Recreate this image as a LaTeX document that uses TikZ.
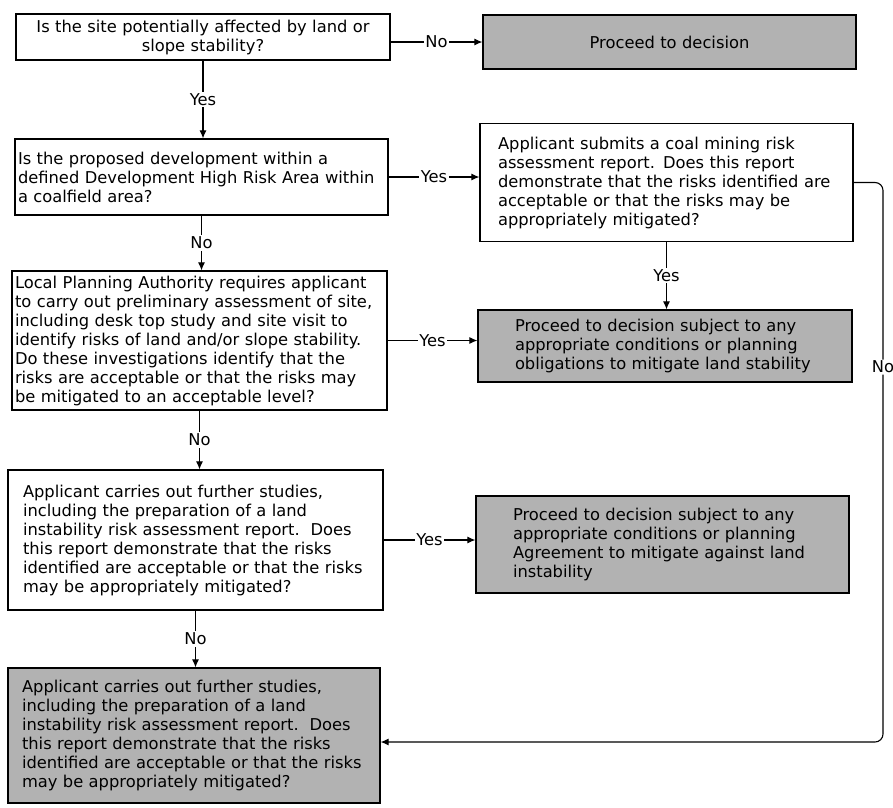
\documentclass[tikz,border=0pt]{standalone}
\usepackage{fontspec}
\setmainfont{DejaVu Sans}
\usetikzlibrary{positioning, arrows.meta, calc}

\tikzset{
  qbox/.style={draw, rectangle, fill=white, align=left, line width=1.2pt},
  gbox/.style={draw, rectangle, fill=black!30, align=left, line width=1.2pt},
  arr/.style={-{Latex[length=8pt,width=7pt]}, line width=1.1pt},
  lbl/.style={fill=white, inner sep=1.5pt},
}

\begin{document}
\begin{tikzpicture}[x=1pt, y=-1pt, font=\fontsize{16.3}{19}\selectfont]
  \useasboundingbox (0,0) rectangle (893,807);

  \node[qbox, align=center, text width=366pt, inner xsep=4pt, minimum height=46pt] (site) at (203,37) {Is the site potentially affected by land or\\ slope stability?};
  \node[gbox, align=center, text width=365pt, inner xsep=4pt, minimum height=54pt] (decide) at (669.5,42) {Proceed to decision};

  \node[qbox, text width=367pt, inner xsep=3pt, minimum height=76pt] (highrisk) at (201.5,177) {Is the proposed development within a\\ defined Development High Risk Area within\\ a coalfield area?};
  \node[qbox, text width=337pt, inner xsep=18pt, minimum height=118pt] (coalreport) at (666.5,182.5) {Applicant submits a coal mining risk\\ assessment report. Does this report\\ demonstrate that the risks identified are\\ acceptable or that the risks may be\\ appropriately mitigated?};

  \node[qbox, text width=369pt, inner xsep=3pt, minimum height=139pt] (prelim) at (199.5,340.5) {Local Planning Authority requires applicant\\ to carry out preliminary assessment of site,\\ including desk top study and site visit to\\ identify risks of land and/or slope stability.\\ Do these investigations identify that the\\ risks are acceptable or that the risks may\\ be mitigated to an acceptable level?};
  \node[gbox, text width=300pt, inner xsep=37pt, minimum height=72pt] (condone) at (665,346) {Proceed to decision subject to any\\ appropriate conditions or planning\\ obligations to mitigate land stability};

  \node[qbox, text width=345pt, inner xsep=15pt, minimum height=140pt] (further) at (195.5,540) {Applicant carries out further studies,\\ including the preparation of a land\\ instability risk assessment report.\ \ Does\\ this report demonstrate that the risks\\ identified are acceptable or that the risks\\ may be appropriately mitigated?};
  \node[gbox, text width=299pt, inner xsep=37pt, minimum height=97pt] (condtwo) at (662.5,544.5) {Proceed to decision subject to any\\ appropriate conditions or planning\\ Agreement to mitigate against land\\ instability};

  \node[gbox, text width=344pt, inner xsep=14pt, minimum height=135pt] (final) at (194,735.5) {Applicant carries out further studies,\\ including the preparation of a land\\ instability risk assessment report.\ \ Does\\ this report demonstrate that the risks\\ identified are acceptable or that the risks\\ may be appropriately mitigated?};

  \coordinate (loopr) at (883,742);

  \draw[arr] (site.east |- decide.west) -- node[lbl]{No} (decide.west);
  \draw[arr] (site.south) -- node[lbl]{Yes} (site.south |- highrisk.north);
  \draw[arr] (highrisk.east) -- node[lbl]{Yes} (highrisk.east -| coalreport.west);
  \draw[arr] (highrisk.south) -- node[lbl]{No} (highrisk.south |- prelim.north);
  \draw[arr] (coalreport.south) -- node[lbl]{Yes} (coalreport.south |- condone.north);
  \draw[arr] (prelim.east) -- node[lbl]{Yes} (prelim.east -| condone.west);
  \draw[arr] (prelim.south) -- node[lbl]{No} (prelim.south |- further.north);
  \draw[arr] (further.east) -- node[lbl]{Yes} (further.east -| condtwo.west);
  \draw[arr] (further.south) -- node[lbl]{No} (further.south |- final.north);
  \draw[arr, rounded corners=8pt] (coalreport.east) -- (coalreport.east -| loopr) -- node[lbl, pos=0.33]{No} (loopr) -- (loopr -| final.east);
\end{tikzpicture}
\end{document}
